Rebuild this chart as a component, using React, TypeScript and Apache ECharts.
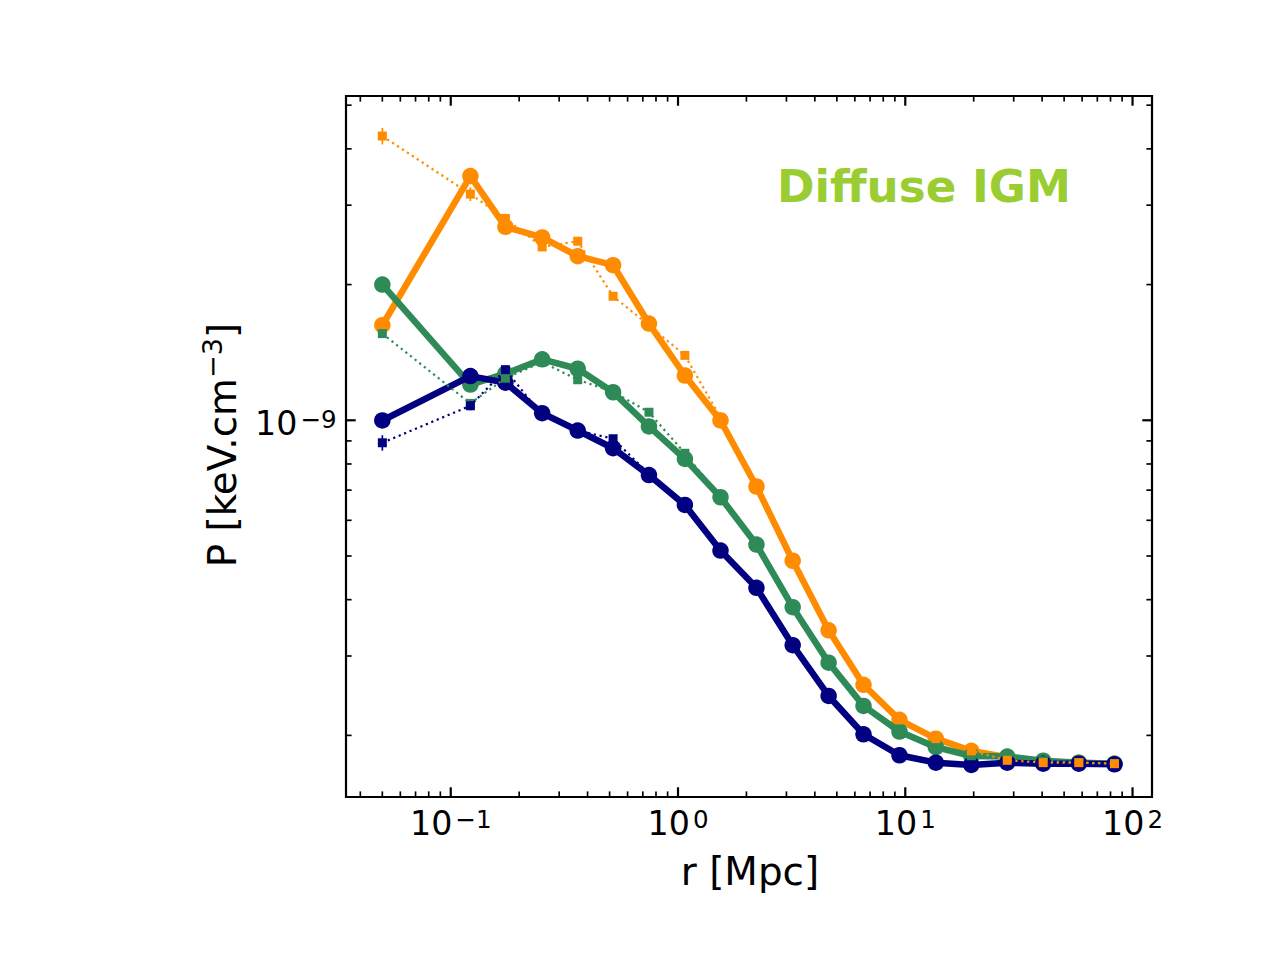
import React, { useEffect, useRef } from "react";
import * as echarts from "echarts";

// ---------------- data ----------------
// radial bins [Mpc]
const radius = [0.05, 0.122, 0.174, 0.2525, 0.362, 0.518, 0.745, 1.072, 1.538, 2.214, 3.196, 4.6, 6.55, 9.43, 13.63, 19.53, 28.1, 40.45, 58.03, 83.27];

// pressure, in units of 1e-10 keV cm^-3
const orangeSolid = [16.25, 34.81, 26.86, 25.44, 23.12, 22.08, 16.39, 12.57, 9.99, 7.13, 4.88, 3.42, 2.59, 2.165, 1.967, 1.848, 1.79, 1.745, 1.74, 1.73];
const greenSolid = [20.0, 12.0, 12.69, 13.65, 13.01, 11.54, 9.69, 8.21, 6.75, 5.3, 3.85, 2.9, 2.325, 2.04, 1.883, 1.8, 1.795, 1.757, 1.74, 1.731];
const navySolid = [9.99, 12.53, 12.12, 10.37, 9.49, 8.67, 7.56, 6.49, 5.14, 4.25, 3.17, 2.446, 2.011, 1.807, 1.74, 1.72, 1.74, 1.731, 1.731, 1.725];

const orangeDotted = [42.71, 31.75, 28.04, 24.24, 24.96, 18.84, 16.25, 13.93, 10.15, 7.13, 4.88, 3.42, 2.59, 2.165, 1.967, 1.848, 1.761, 1.74, 1.74, 1.731];
const greenDotted = [15.57, 10.9, 12.4, 13.46, 12.3, 11.57, 10.42, 8.45, 6.75, 5.3, 3.85, 2.9, 2.325, 2.04, 1.883, 1.8, 1.795, 1.757, 1.74, 1.731];
const navyDotted = [8.915, 10.77, 12.95, 10.25, 9.49, 9.1, 7.6, 6.5, 5.14, 4.25, 3.17, 2.446, 2.011, 1.807, 1.74, 1.72, 1.74, 1.731, 1.731, 1.725];

// symmetric errors on the dotted profiles (same units)
const orangeErr = [1.8, 1.1, 0.5, 0.4, 0.4, 0.3, 0.2, 0.15, 0.1, 0, 0, 0, 0, 0, 0, 0, 0, 0, 0, 0];
const greenErr = [0.3, 0.2, 0.15, 0.1, 0.1, 0.08, 0.06, 0.05, 0, 0, 0, 0, 0, 0, 0, 0, 0, 0, 0, 0];
const navyErr = [0.35, 0.25, 0.2, 0.1, 0.08, 0.06, 0.05, 0, 0, 0, 0, 0, 0, 0, 0, 0, 0, 0, 0, 0];

const UNIT = 1e-10;

// reference level (horizontal grey lines)
const refLevel = 1.754e-10;
const refLevelDashed = 1.763e-10;

// axes
const X_MIN = 0.0346;
const X_MAX = 121.8;
const Y_MIN = 1.46e-10;
const Y_MAX = 5.24e-9;

const xMajorTicks = [0.1, 1, 10, 100];
const xMinorTicks = [0.04, 0.05, 0.06, 0.07, 0.08, 0.09, 0.2, 0.3, 0.4, 0.5, 0.6, 0.7, 0.8, 0.9, 2, 3, 4, 5, 6, 7, 8, 9, 20, 30, 40, 50, 60, 70, 80, 90];
const yMajorTicks = [1e-9];
const yMinorTicks = [2e-10, 3e-10, 4e-10, 5e-10, 6e-10, 7e-10, 8e-10, 9e-10, 2e-9, 3e-9, 4e-9, 5e-9];

const COLORS = { orange: "#FF8C00", green: "#2E8B57", navy: "#000080" };
const FONT = '"DejaVu Sans", "Liberation Sans", sans-serif';

// ---------------------------------------------------------------

function toPairs(vals: number[]) {
  return radius.map((r, i) => [r, vals[i] * UNIT]);
}

function errPairs(vals: number[], errs: number[]) {
  const out: number[][] = [];
  radius.forEach((r, i) => {
    if (errs[i] > 0) out.push([r, (vals[i] - errs[i]) * UNIT, (vals[i] + errs[i]) * UNIT]);
  });
  return out;
}

function powLabel(v: number, majors: number[]) {
  const lv = Math.log10(v);
  const hit = majors.find((m) => Math.abs(lv - Math.log10(m)) < 1e-6);
  if (hit === undefined) return "";
  const e = Math.round(Math.log10(hit));
  return `{b|10}{s|${e < 0 ? "\u2212" : ""}${Math.abs(e)}}`;
}

const tickRich = {
  b: { fontSize: 33.3, lineHeight: 34, fontFamily: FONT, color: "#000" },
  s: { fontSize: 24.5, lineHeight: 25, verticalAlign: "top", padding: [0, 0, 0, 3], fontFamily: FONT, color: "#000" },
};

function solidSeries(name: string, vals: number[], color: string, z: number, extra: any = {}) {
  return {
    name,
    type: "line",
    z,
    data: toPairs(vals),
    symbol: "circle",
    symbolSize: 16.5,
    itemStyle: { color },
    lineStyle: { color, width: 6.5, join: "round", cap: "round" },
    emphasis: { disabled: true },
    ...extra,
  };
}

function dottedSeries(name: string, vals: number[], color: string, z: number) {
  return {
    name,
    type: "line",
    z,
    data: toPairs(vals),
    symbol: "rect",
    symbolSize: 9,
    itemStyle: { color },
    lineStyle: { color, width: 2.2, type: [2.2, 3.7], cap: "butt" },
    emphasis: { disabled: true },
  };
}

function errSeries(vals: number[], errs: number[], color: string, z: number) {
  return {
    type: "custom",
    z,
    silent: true,
    data: errPairs(vals, errs),
    encode: { x: 0, y: [1, 2] },
    renderItem: (_params: any, api: any) => {
      const a = api.coord([api.value(0), api.value(1)]);
      const b = api.coord([api.value(0), api.value(2)]);
      return {
        type: "line",
        shape: { x1: a[0], y1: a[1], x2: b[0], y2: b[1] },
        style: { stroke: color, lineWidth: 1.7 },
      };
    },
  };
}

export default function App() {
  const ref = useRef<HTMLDivElement>(null);

  useEffect(() => {
    if (!ref.current) return;
    const chart = echarts.init(ref.current, null, { renderer: "svg" });

    const xTickData = [
      ...xMajorTicks.map((v) => [v, Y_MIN, 1]),
      ...xMinorTicks.map((v) => [v, Y_MIN, 0]),
    ];
    const yTickData = [
      ...yMajorTicks.map((v) => [X_MIN, v, 1]),
      ...yMinorTicks.map((v) => [X_MIN, v, 0]),
    ];

    const option: any = {
      animation: false,
      backgroundColor: "#ffffff",
      textStyle: { fontFamily: FONT },
      grid: {
        show: true,
        left: 346,
        top: 96,
        width: 806,
        height: 701,
        borderColor: "#000",
        borderWidth: 2.2,
        backgroundColor: "transparent",
        containLabel: false,
      },
      xAxis: {
        type: "log",
        logBase: 10,
        min: X_MIN,
        max: X_MAX,
        axisLine: { show: false },
        axisTick: { show: false },
        minorTick: { show: false },
        splitLine: { show: false },
        axisLabel: {
          margin: 9.5,
          showMinLabel: true,
          showMaxLabel: true,
          formatter: (v: number) => powLabel(v, xMajorTicks),
          rich: tickRich,
        },
      },
      yAxis: {
        type: "log",
        logBase: 10,
        min: Y_MIN,
        max: Y_MAX,
        axisLine: { show: false },
        axisTick: { show: false },
        minorTick: { show: false },
        splitLine: { show: false },
        axisLabel: {
          margin: 9.5,
          padding: [7, 0, 0, 0],
          formatter: (v: number) => powLabel(v, yMajorTicks),
          rich: tickRich,
        },
      },
      series: [
        solidSeries("orange", orangeSolid, COLORS.orange, 2, {
          markLine: {
            silent: true,
            z: 1,
            symbol: ["none", "none"],
            label: { show: false },
            emphasis: { disabled: true },
            data: [
              { yAxis: refLevel, lineStyle: { color: "#808080", width: 3, type: "solid" } },
              { yAxis: refLevelDashed, lineStyle: { color: "#c8c8c8", width: 1.4, type: [10, 4] } },
            ],
          },
        }),
        solidSeries("green", greenSolid, COLORS.green, 3),
        solidSeries("navy", navySolid, COLORS.navy, 4),
        errSeries(greenDotted, greenErr, COLORS.green, 5),
        dottedSeries("green dotted", greenDotted, COLORS.green, 6),
        errSeries(navyDotted, navyErr, COLORS.navy, 7),
        dottedSeries("navy dotted", navyDotted, COLORS.navy, 8),
        errSeries(orangeDotted, orangeErr, COLORS.orange, 9),
        dottedSeries("orange dotted", orangeDotted, COLORS.orange, 10),
        {
          type: "custom",
          z: 20,
          silent: true,
          data: xTickData,
          encode: { x: 0, y: 1 },
          renderItem: (params: any, api: any) => {
            const p = api.coord([api.value(0), api.value(1)]);
            const cs = params.coordSys;
            const major = api.value(2) === 1;
            const len = major ? 9.7 : 5.6;
            const w = major ? 2.2 : 1.67;
            const bottom = cs.y + cs.height;
            const top = cs.y;
            return {
              type: "group",
              children: [
                { type: "line", shape: { x1: p[0], y1: bottom, x2: p[0], y2: bottom - len }, style: { stroke: "#000", lineWidth: w } },
                { type: "line", shape: { x1: p[0], y1: top, x2: p[0], y2: top + len }, style: { stroke: "#000", lineWidth: w } },
              ],
            };
          },
        },
        {
          type: "custom",
          z: 20,
          silent: true,
          data: yTickData,
          encode: { x: 0, y: 1 },
          renderItem: (params: any, api: any) => {
            const p = api.coord([api.value(0), api.value(1)]);
            const cs = params.coordSys;
            const major = api.value(2) === 1;
            const len = major ? 9.7 : 5.6;
            const w = major ? 2.2 : 1.67;
            const left = cs.x;
            const right = cs.x + cs.width;
            return {
              type: "group",
              children: [
                { type: "line", shape: { x1: left, y1: p[1], x2: left + len, y2: p[1] }, style: { stroke: "#000", lineWidth: w } },
                { type: "line", shape: { x1: right, y1: p[1], x2: right - len, y2: p[1] }, style: { stroke: "#000", lineWidth: w } },
              ],
            };
          },
        },
      ],
      graphic: [
        {
          type: "text",
          x: 750,
          y: 871,
          z: 30,
          style: {
            text: "r [Mpc]",
            fontSize: 38.9,
            fontFamily: FONT,
            fill: "#000",
            align: "center",
            verticalAlign: "middle",
          },
        },
        {
          type: "text",
          x: 222,
          y: 445,
          rotation: Math.PI / 2,
          z: 30,
          style: {
            text: "{n|P [keV.cm}{s|\u22123}{n|]}",
            rich: {
              n: { fontSize: 38.9, lineHeight: 46, fontFamily: FONT, fill: "#000" },
              s: { fontSize: 27.2, lineHeight: 14, verticalAlign: "top", fontFamily: FONT, fill: "#000" },
            },
            fill: "#000",
            align: "center",
            verticalAlign: "middle",
          },
        },
        {
          type: "text",
          x: 777,
          y: 186.6,
          z: 30,
          style: {
            text: "Diffuse IGM",
            fontSize: 45.2,
            fontWeight: "bold",
            fontFamily: FONT,
            fill: "#9ACD32",
            align: "left",
            verticalAlign: "middle",
          },
        },
      ],
    };

    chart.setOption(option);
    return () => {
      chart.dispose();
    };
  }, []);

  return (
    <div
      ref={ref}
      style={{ position: "absolute", left: 0, top: 0, width: 1280, height: 960, background: "#fff" }}
    />
  );
}
